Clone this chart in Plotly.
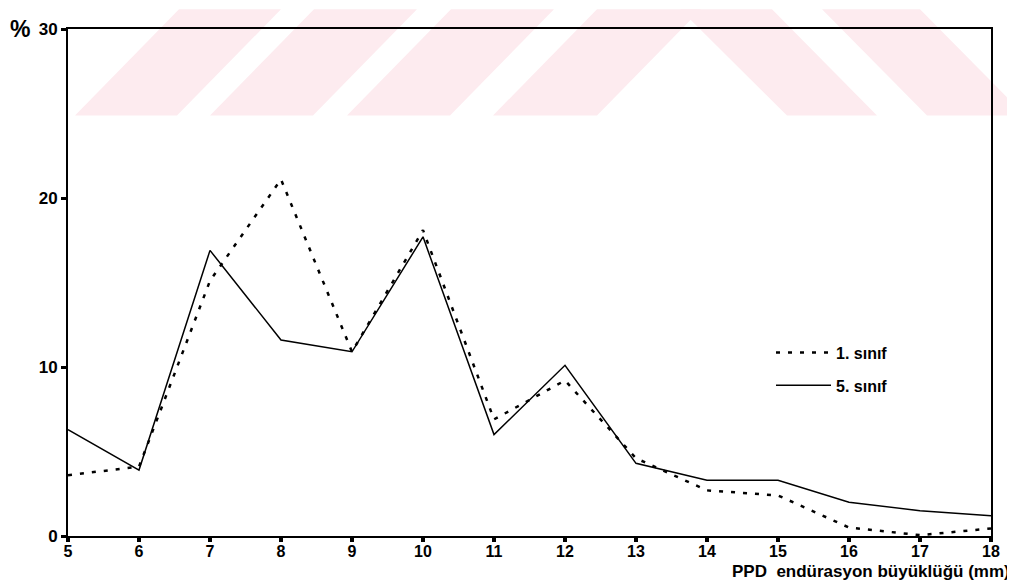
import plotly.graph_objects as go

# ---- data ----
sizes_mm = [5, 6, 7, 8, 9, 10, 11, 12, 13, 14, 15, 16, 17, 18]
sinif_1 = [3.6, 4.1, 15.1, 21.1, 10.9, 18.1, 6.9, 9.2, 4.6, 2.7, 2.4, 0.5, 0.05, 0.45]
sinif_5 = [6.3, 3.9, 16.9, 11.6, 10.9, 17.7, 6.0, 10.1, 4.3, 3.3, 3.3, 2.0, 1.5, 1.2]
y_ticks = [0, 10, 20, 30]
series_names = ["1. sınıf", "5. sınıf"]
x_title = "PPD\u00a0\u00a0endürasyon büyüklüğü (mm)"

OFF = 8  # page body margin
W, H = 1015 - OFF, 587 - OFF
# plot area in page pixels: left 68, right 991, top 20, bottom 536
L, T = 68 - OFF, 20 - OFF
R = W - (991 - OFF)
B = H - (536 - OFF)
PW, PH = W - L - R, H - T - B


def px(xp):  # page x pixel -> paper
    return (xp - OFF - L) / PW


def py(yp):  # page y pixel -> paper
    return (H - B - (yp - OFF)) / PH


FONT = "Liberation Sans, Arial, Helvetica, sans-serif"

fig = go.Figure()
fig.add_trace(go.Scatter(
    x=sizes_mm, y=sinif_1, mode="lines", name=series_names[0],
    legendgroup="a",
    line=dict(color="black", width=2.5, dash="4px,8px"),
))
fig.add_trace(go.Scatter(
    x=sizes_mm, y=sinif_5, mode="lines", name=series_names[1],
    legendgroup="b",
    line=dict(color="black", width=1.5),
))

# faint watermark stripes (decorative background)
wm = "#fdebef"
shapes = []
polys = [
    [(75, 108), (177, 108), (281, 0), (179, 0)],
    [(210, 108), (313, 108), (417, 0), (314, 0)],
    [(347, 108), (450, 108), (554, 0), (451, 0)],
    [(493, 108), (597, 108), (701, 0), (597, 0)],
    [(680, 0), (772, 0), (877, 108), (787, 108)],
    [(822, 0), (920, 0), (1025, 108), (927, 108)],
]
for poly in polys:
    path = "M " + " L ".join(f"{px(a):.5f},{py(b):.5f}" for a, b in poly) + " Z"
    shapes.append(dict(type="path", xref="paper", yref="paper", path=path,
                       fillcolor=wm, line=dict(width=0), layer="below"))

fig.update_layout(
    width=W, height=H,
    margin=dict(l=L, r=R, t=T, b=B),
    paper_bgcolor="white",
    plot_bgcolor="rgba(0,0,0,0)",
    shapes=shapes,
    showlegend=True,
    legend=dict(
        x=px(771), y=py(332), xanchor="left", yanchor="top",
        bgcolor="rgba(0,0,0,0)",
        font=dict(family=FONT, size=16, color="black", weight="bold"),
        traceorder="grouped", tracegroupgap=9,
        itemwidth=55,
    ),
    annotations=[
        dict(text="%", xref="paper", yref="paper", x=px(8), y=py(20),
             xanchor="left", yanchor="middle", showarrow=False,
             font=dict(family=FONT, size=23, color="black", weight="bold")),
        dict(text=x_title, xref="paper", yref="paper", x=px(1012), y=py(572),
             xanchor="right", yanchor="middle", showarrow=False,
             font=dict(family=FONT, size=17, color="black", weight="bold")),
    ],
)

fig.update_xaxes(
    range=[5, 18], tickmode="array", tickvals=sizes_mm,
    showgrid=False, zeroline=False,
    showline=True, linecolor="black", linewidth=2, mirror=True,
    ticks="outside", ticklen=4, tickwidth=4, tickcolor="black",
    ticklabelstandoff=-4,
    tickfont=dict(family=FONT, size=16, color="black", weight="bold"),
)
fig.update_yaxes(
    range=[0, 30], tickmode="array", tickvals=y_ticks,
    showgrid=False, zeroline=False,
    showline=True, linecolor="black", linewidth=2, mirror=True,
    ticks="outside", ticklen=5, tickwidth=3, tickcolor="black",
    tickfont=dict(family=FONT, size=17, color="black", weight="bold"),
)

fig.write_html("out.html")
